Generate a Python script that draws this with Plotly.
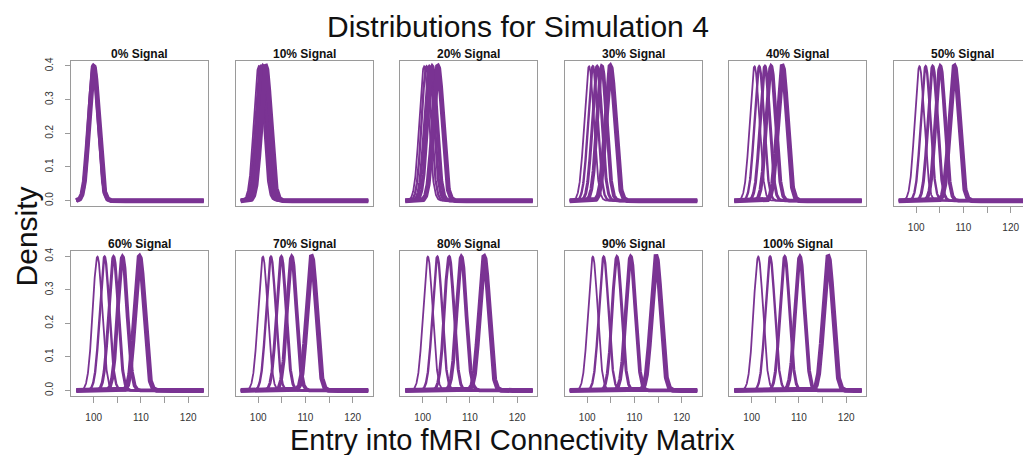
import numpy as np
import plotly.graph_objects as go

# ---------------- data ----------------
panel_titles = ["0% Signal", "10% Signal", "20% Signal", "30% Signal", "40% Signal",
                "50% Signal", "60% Signal", "70% Signal", "80% Signal", "90% Signal",
                "100% Signal"]

# peak locations (means) of the five node groups in each panel; every density has sd 1
means_0 = [100.0, 100.0, 100.0, 100.0, 100.0]
means_10 = [100.1, 100.4, 100.7, 101.0, 101.6]
means_20 = [100.3, 100.8, 101.4, 102.0, 103.2]
means_30 = [100.4, 101.2, 102.1, 103.1, 104.9]
means_40 = [100.6, 101.6, 102.8, 104.1, 106.5]
means_50 = [100.7, 102.0, 103.5, 105.1, 108.1]
means_60 = [100.8, 102.3, 104.2, 106.1, 109.7]
means_70 = [101.0, 102.7, 104.9, 107.1, 111.3]
means_80 = [101.1, 103.1, 105.6, 108.2, 113.0]
means_90 = [101.2, 103.5, 106.3, 109.2, 114.6]
means_100 = [101.4, 103.9, 107.0, 110.2, 116.2]
group_sd = 1.0
x_min, x_max = 96.3, 123.3

x_tick_vals = [100, 105, 110, 115, 120]
x_tick_text = ["100", "", "110", "", "120"]
y_tick_vals = [0.0, 0.1, 0.2, 0.3, 0.4]
y_tick_text = ["0.0", "0.1", "0.2", "0.3", "0.4"]

all_means = [means_0, means_10, means_20, means_30, means_40, means_50,
             means_60, means_70, means_80, means_90, means_100]

# ---------------- style ----------------
W, H = 1023, 455
PURPLE = "#7a3393"
BOX = "#9a9a9a"
FONT = "Liberation Sans, Arial, sans-serif"
line_widths = [1.8, 2.4, 3.0, 3.8, 5.0]
x_range = [95.2, 124.2]
y_range = [-0.016, 0.416]

col_left_px = [71, 235.5, 400, 564.5, 729, 893.5]
panel_w_px = 137
row_px = [(57.9, 204.4), (249.6, 395.4)]  # (top, bottom) in window pixels


def px_x(p):
    return p / W


def px_y(p):
    return 1 - p / H


fig = go.Figure()
grid_x = np.linspace(x_min, x_max, 800)

layout_axes = {}
annotations = []
for i, (title, means) in enumerate(zip(panel_titles, all_means)):
    row = 0 if i < 6 else 1
    col = i if i < 6 else i - 6
    left = col_left_px[col]
    right = left + panel_w_px
    xr = list(x_range)
    if right > W:
        xr[1] = x_range[0] + (W - left) / panel_w_px * (x_range[1] - x_range[0])
        right = W
    top, bot = row_px[row]
    xdom = [px_x(left), min(1.0, px_x(right))]
    ydom = [px_y(bot), px_y(top)]
    n = i + 1
    xa = "x" if n == 1 else f"x{n}"
    ya = "y" if n == 1 else f"y{n}"
    for m, lw in zip(means, line_widths):
        dens = np.exp(-0.5 * ((grid_x - m) / group_sd) ** 2) / (group_sd * np.sqrt(2 * np.pi))
        fig.add_trace(go.Scatter(x=grid_x, y=dens, mode="lines", xaxis=xa, yaxis=ya,
                                 line=dict(color=PURPLE, width=lw), showlegend=False,
                                 hoverinfo="skip"))
    show_x = (row == 1) or (i == 5)
    show_y = (col == 0)
    layout_axes["xaxis" if n == 1 else f"xaxis{n}"] = dict(
        domain=xdom, range=xr, anchor=ya, showgrid=False, zeroline=False,
        showline=True, linecolor=BOX, linewidth=1, mirror=True,
        ticks="outside" if show_x else "", ticklen=6, tickcolor=BOX, tickwidth=1,
        tickvals=x_tick_vals, ticktext=x_tick_text, showticklabels=show_x,
        tickfont=dict(family=FONT, size=10, color="#333333"), ticklabelstandoff=6)
    layout_axes["yaxis" if n == 1 else f"yaxis{n}"] = dict(
        domain=ydom, range=y_range, anchor=xa, showgrid=False, zeroline=False,
        showline=True, linecolor=BOX, linewidth=1, mirror=(i != 5),
        ticks="outside" if show_y else "", ticklen=5, tickcolor=BOX, tickwidth=1,
        tickvals=y_tick_vals, ticktext=y_tick_text, showticklabels=show_y,
        tickangle=-90, tickfont=dict(family=FONT, size=10, color="#333333"),
        ticklabelstandoff=8)
    annotations.append(dict(text=f"<b>{title}</b>", x=px_x(left + panel_w_px / 2),
                            y=px_y(top), xref="paper", yref="paper",
                            xanchor="center", yanchor="bottom", showarrow=False,
                            yshift=-2, font=dict(family=FONT, size=12, color="#111111")))

annotations.append(dict(text="Distributions for Simulation 4", x=px_x(518), y=px_y(24),
                        xref="paper", yref="paper", xanchor="center", yanchor="middle",
                        showarrow=False, font=dict(family=FONT, size=30, color="#111111")))
annotations.append(dict(text="Entry into fMRI Connectivity Matrix", x=px_x(512), y=px_y(440),
                        xref="paper", yref="paper", xanchor="center", yanchor="middle",
                        showarrow=False, font=dict(family=FONT, size=29, color="#111111")))
annotations.append(dict(text="Density", x=px_x(26), y=px_y(235), textangle=-90,
                        xref="paper", yref="paper", xanchor="center", yanchor="middle",
                        showarrow=False, font=dict(family=FONT, size=30, color="#111111")))

fig.update_layout(width=W, height=H, margin=dict(l=0, r=0, t=0, b=0),
                  paper_bgcolor="white", plot_bgcolor="white",
                  annotations=annotations, **layout_axes)
fig.write_html(
    "out.html",
    config={"displayModeBar": False},
    post_script=("document.body.style.margin='0';"
                 "document.body.style.overflow='hidden';"
                 "document.documentElement.style.overflow='hidden';"),
)
